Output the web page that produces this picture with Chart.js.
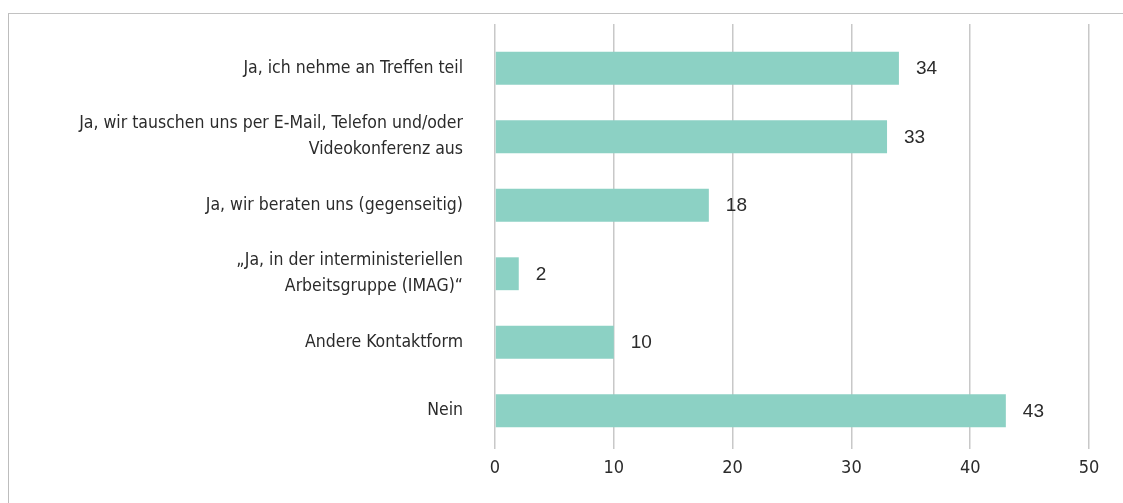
<!DOCTYPE html>
<html>
<head>
<meta charset="utf-8">
<script src="https://cdn.jsdelivr.net/npm/chart.js@4/dist/chart.umd.min.js"></script>
<style>
  html, body { margin: 0; padding: 0; background: #fff; overflow: hidden; }
  #frame {
    position: absolute; left: 8px; top: 13px; width: 1300px; height: 700px;
    border-top: 1px solid #c2c2c2; border-left: 1px solid #bdbdbd;
  }
  #contactChart { position: absolute; left: 0; top: 0; }
</style>
</head>
<body>
<div id="frame"></div>
<canvas id="contactChart" width="1123" height="503"></canvas>
<script>
const categories = [
  "Ja, ich nehme an Treffen teil",
  ["Ja, wir tauschen uns per E-Mail, Telefon und/oder", "Videokonferenz aus"],
  "Ja, wir beraten uns (gegenseitig)",
  ["„Ja, in der interministeriellen", "Arbeitsgruppe (IMAG)“"],
  "Andere Kontaktform",
  "Nein",
];
const counts = [34, 33, 18, 2, 10, 43];
const axisMax = 50;
const axisStep = 10;

const gridColor = "#c8c8c8";
const textColor = "#2b2b2b";
const narrowFont = "'Liberation Sans Narrow', 'Arial Narrow', 'DejaVu Sans Condensed', sans-serif";

// value labels to the right of each bar
const valueLabels = {
  id: "valueLabels",
  afterDatasetsDraw(chart) {
    const { ctx } = chart;
    const meta = chart.getDatasetMeta(0);
    ctx.save();
    ctx.font = "19px 'Liberation Sans', Arial, sans-serif";
    ctx.fillStyle = textColor;
    ctx.textAlign = "left";
    ctx.textBaseline = "middle";
    meta.data.forEach((bar, i) => {
      ctx.fillText(String(counts[i]), bar.x + 17, bar.y + 1);
    });
    ctx.restore();
  },
};

new Chart(document.getElementById("contactChart"), {
  type: "bar",
  data: {
    labels: categories,
    datasets: [
      {
        data: counts,
        backgroundColor: "#8cd1c4",
        borderWidth: 0,
        categoryPercentage: 1,
        barPercentage: 0.48,
      },
    ],
  },
  options: {
    indexAxis: "y",
    responsive: false,
    animation: false,
    devicePixelRatio: 1,
    layout: { padding: { top: 24, right: 34, bottom: 0, left: 0 } },
    plugins: { legend: { display: false }, tooltip: { enabled: false } },
    scales: {
      x: {
        min: 0,
        max: axisMax,
        ticks: {
          stepSize: axisStep,
          color: textColor,
          padding: 9,
          font: { family: narrowFont, size: 18 },
        },
        grid: { color: gridColor, lineWidth: 1.5, tickLength: 4, drawTicks: true },
        border: { display: false },
        afterFit: (scale) => { scale.height = 58; },
      },
      xTop: {
        position: "top",
        axis: "x",
        min: 0,
        max: axisMax,
        ticks: { stepSize: axisStep, display: false },
        grid: { color: gridColor, lineWidth: 1.5, tickLength: 10, drawOnChartArea: false },
        border: { display: false },
        afterFit: (scale) => { scale.height = 10; },
      },
      y: {
        ticks: {
          color: textColor,
          padding: 0,
          font: { family: narrowFont, size: 17.5, lineHeight: 1.5 },
        },
        grid: {
          color: "rgba(0,0,0,0)",
          drawOnChartArea: false,
          drawTicks: true,
          tickLength: 32,
        },
        border: { display: false },
        afterFit: (scale) => { scale.width = 495; },
      },
    },
  },
  plugins: [valueLabels],
});
</script>
</body>
</html>
